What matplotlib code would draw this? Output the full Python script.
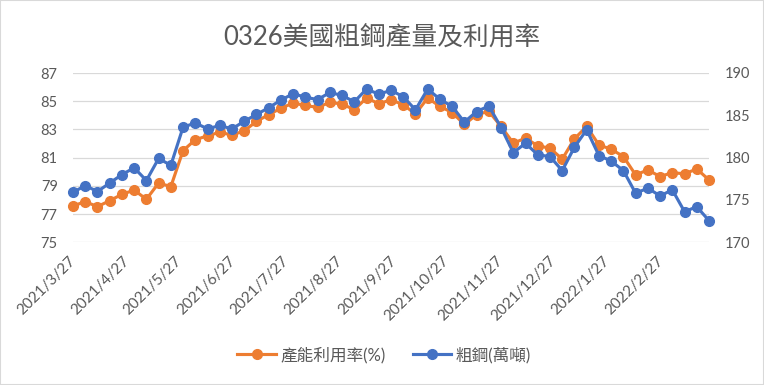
import numpy as np
import pandas as pd
import matplotlib
matplotlib.use("Agg")
import matplotlib.pyplot as plt
from matplotlib.patches import Rectangle

plt.rcParams['font.family'] = ['Lato', 'Noto Sans CJK TC', 'DejaVu Sans']

# weekly data, 2021/3/27 .. 2022/3/26
dates = pd.date_range('2021-03-27', periods=53, freq='7D')

util = [77.58, 77.88, 77.53, 77.95, 78.4, 78.7, 78.05, 79.2, 78.95, 81.5,
        82.27, 82.55, 82.8, 82.6, 82.9, 83.57, 84.05, 84.5, 84.87, 84.7,
        84.56, 84.92, 84.8, 84.4, 85.23, 84.82, 85.1, 84.75, 84.1, 85.23,
        84.63, 84.2, 83.35, 84.05, 84.28, 83.21, 82.03, 82.38, 81.84, 81.67,
        80.9, 82.34, 83.21, 81.9, 81.6, 81.08, 79.78, 80.13, 79.66, 79.94,
        79.85, 80.2, 79.42]

steel = [175.9, 176.7, 176.0, 177.0, 178.0, 178.8, 177.3, 179.9, 179.1, 183.6,
         184.1, 183.4, 183.8, 183.4, 184.3, 185.1, 185.9, 186.8, 187.55, 187.15,
         186.85, 187.7, 187.35, 186.6, 188.1, 187.5, 187.95, 187.2, 185.65, 188.1,
         186.9, 186.05, 184.2, 185.45, 186.1, 183.56, 180.6, 181.7, 180.33, 180.13,
         178.47, 181.24, 183.3, 180.25, 179.6, 178.47, 175.8, 176.4, 175.48, 176.2,
         173.62, 174.2, 172.56]

tick_labels = ['2021/3/27', '2021/4/27', '2021/5/27', '2021/6/27', '2021/7/27',
               '2021/8/27', '2021/9/27', '2021/10/27', '2021/11/27', '2021/12/27',
               '2022/1/27', '2022/2/27']
left_ticks = [75, 77, 79, 81, 83, 85, 87]
right_ticks = [170, 175, 180, 185, 190]

ORANGE = '#ED7D31'
BLUE = '#4472C4'
TXT = '#595959'

fig = plt.figure(figsize=(7.64, 3.85), dpi=100)
ax = fig.add_axes([73/764, 1-242.3/385, (709-73)/764, (242.3-73)/385])
ax2 = ax.twinx()

l1, = ax.plot(dates, util, '-o', color=ORANGE, lw=2.25, ms=7, clip_on=False,
              label='產能利用率(%)')
l2, = ax2.plot(dates, steel, '-o', color=BLUE, lw=2.25, ms=7, clip_on=False,
               label='粗鋼(萬噸)')

ax.set_xlim(dates[0], dates[-1])
ax.set_ylim(75, 87)
ax2.set_ylim(170, 190)
ax.set_yticks(left_ticks)
ax2.set_yticks(right_ticks)
ax.yaxis.grid(True, color='#D9D9D9', lw=0.9)
ax.set_axisbelow(True)

tick_pos = pd.to_datetime(tick_labels, format='%Y/%m/%d')
ax.set_xticks(tick_pos)
ax.set_xticklabels(tick_labels, rotation=45, ha='right', va='center',
                   rotation_mode='anchor', fontsize=11, color=TXT)
ax.tick_params(axis='x', length=0, pad=12)
ax.tick_params(axis='y', length=0, pad=11, labelsize=10.5, labelcolor=TXT)
ax2.tick_params(axis='y', length=0, pad=11, labelsize=10.5, labelcolor=TXT)

for a in (ax, ax2):
    for s in a.spines.values():
        s.set_visible(False)

fig.text(0.5, 1-37/385, '0326美國粗鋼產量及利用率', ha='center', va='center',
         fontsize=18.5, color=TXT)

fig.legend(handles=[l1, l2], loc='center', bbox_to_anchor=(0.503, 1-355/385),
           ncol=2, frameon=False, fontsize=12, handlelength=2.3,
           columnspacing=1.6, handletextpad=0.3, numpoints=1,
           labelcolor=TXT)

fig.patches.append(Rectangle((0, 0), 1, 1, transform=fig.transFigure,
                             fill=False, edgecolor='#D9D9D9', lw=1.5))

fig.savefig('out.png', dpi=100)
